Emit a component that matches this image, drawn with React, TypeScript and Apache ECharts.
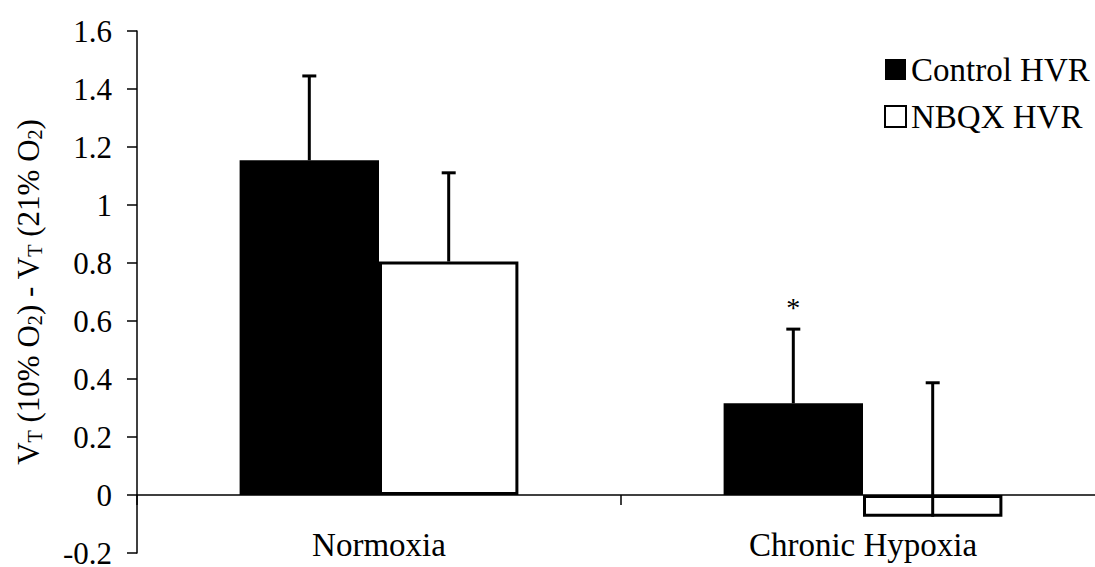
import React, { useEffect, useRef } from "react";
import * as echarts from "echarts";

const categories = ["Normoxia", "Chronic Hypoxia"];
const controlMeans = [1.154, 0.316];
const controlErrors = [0.291, 0.256];
const nbqxMeans = [0.805, -0.075];
const nbqxErrors = [0.306, 0.462];
const controlMarks = ["", "*"];
const nbqxMarks = ["", ""];
const yTicks = { min: -0.2, max: 1.6, step: 0.2 };

const FONT = "Liberation Serif";
const CATEGORY_GAP = 0.424;

function errorSeries(name: string, means: number[], errs: number[], marks: string[], side: number) {
  return {
    type: "custom",
    name: name + " SEM",
    z: 5,
    data: means.map((m, i) => [i, m, errs[i]]),
    encode: { x: 0, y: 1 },
    renderItem: (params: any, api: any) => {
      const cat = api.value(0);
      const v = api.value(1);
      const e = api.value(2);
      const band = api.size([1, 0])[0];
      const barW = (band * (1 - CATEGORY_GAP)) / 2;
      const base = api.coord([cat, v]);
      const top = api.coord([cat, v + e]);
      const x = base[0] + (side * barW) / 2;
      const style = { stroke: "#000", lineWidth: 3 };
      const children: any[] = [
        { type: "line", shape: { x1: x, y1: base[1], x2: x, y2: top[1] }, style },
        { type: "line", shape: { x1: x - 7, y1: top[1], x2: x + 7, y2: top[1] }, style },
      ];
      const mark = marks[params.dataIndex];
      if (mark) {
        children.push({
          type: "text",
          style: {
            text: mark,
            x,
            y: top[1] - 22,
            align: "center",
            verticalAlign: "middle",
            fontFamily: FONT,
            fontSize: 28,
            fill: "#000",
          },
        });
      }
      return { type: "group", children };
    },
  };
}

export default function App() {
  const ref = useRef<HTMLDivElement>(null);

  useEffect(() => {
    if (!ref.current) return;
    const chart = echarts.init(ref.current, null, { renderer: "svg" });
    chart.setOption({
      animation: false,
      backgroundColor: "#fff",
      textStyle: { fontFamily: FONT, color: "#000" },
      grid: { left: 137, right: -10, top: 31, bottom: 14, outerBoundsMode: "none" },
      legend: {
        data: ["Control HVR", "NBQX HVR"],
        orient: "vertical",
        left: 879,
        top: 48,
        itemWidth: 21,
        itemHeight: 21,
        itemGap: 14,
        icon: "rect",
        textStyle: { fontFamily: FONT, fontSize: 33, color: "#000" },
      },
      xAxis: {
        type: "category",
        data: categories,
        axisLine: { onZero: true, lineStyle: { color: "#000", width: 1.5 } },
        axisTick: { show: true, length: 10, lineStyle: { color: "#000", width: 1.5 } },
        axisLabel: { fontFamily: FONT, fontSize: 33, color: "#000", margin: -25 },
        splitLine: { show: false },
      },
      yAxis: {
        type: "value",
        min: yTicks.min,
        max: yTicks.max,
        interval: yTicks.step,
        axisLine: { show: true, lineStyle: { color: "#000", width: 1.5 } },
        axisTick: { show: true, length: 10, lineStyle: { color: "#000", width: 1.5 } },
        axisLabel: {
          fontFamily: FONT,
          fontSize: 31,
          lineHeight: 24,
          color: "#000",
          margin: 25,
          formatter: (v: number) => String(Math.round(v * 10) / 10),
        },
        splitLine: { show: false },
        name: "{n|V}{s|T}{n| (10% O}{s|2}{n|) - V}{s|T}{n| (21% O}{s|2}{n|)}",
        nameLocation: "middle",
        nameRotate: 90,
        nameGap: 92,
        nameTextStyle: {
          fontFamily: FONT,
          fontSize: 31,
          color: "#000",
          rich: {
            n: { fontFamily: FONT, fontSize: 31, color: "#000", lineHeight: 34 },
            s: { fontFamily: FONT, fontSize: 20, color: "#000", lineHeight: 18, verticalAlign: "bottom" },
          },
        },
      },
      series: [
        {
          name: "Control HVR",
          type: "bar",
          data: controlMeans,
          barGap: "0%",
          barCategoryGap: CATEGORY_GAP * 100 + "%",
          itemStyle: { color: "#000" },
        },
        {
          name: "NBQX HVR",
          type: "bar",
          data: nbqxMeans,
          itemStyle: { color: "#fff", borderColor: "#000", borderWidth: 3 },
        },
        errorSeries("Control HVR", controlMeans, controlErrors, controlMarks, -1),
        errorSeries("NBQX HVR", nbqxMeans, nbqxErrors, nbqxMarks, 1),
      ],
    });
    return () => chart.dispose();
  }, []);

  return (
    <div
      ref={ref}
      style={{ position: "absolute", left: 0, top: 0, width: 1095, height: 567, background: "#fff" }}
    />
  );
}
